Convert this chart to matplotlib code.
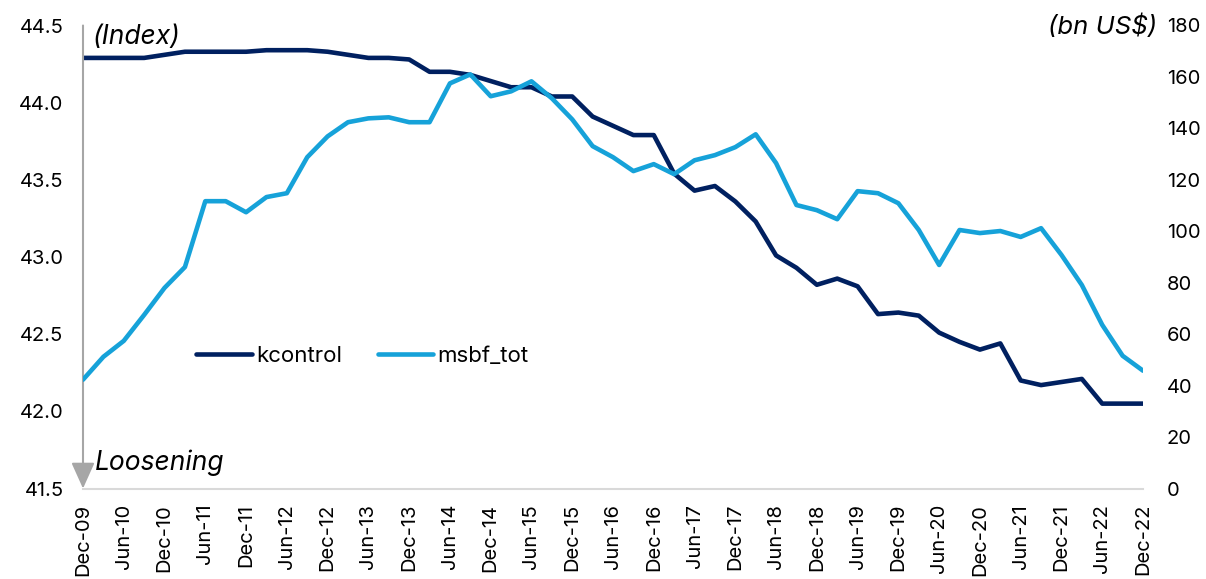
import matplotlib
matplotlib.use("Agg")
import matplotlib.pyplot as plt
from matplotlib.ticker import FormatStrFormatter
import numpy as np

plt.rcParams['font.family'] = ['Inter', 'DejaVu Sans']

# Quarterly dates Dec-09 .. Dec-22
quarters = ["Dec-09", "Mar-10", "Jun-10", "Sep-10", "Dec-10", "Mar-11", "Jun-11", "Sep-11",
            "Dec-11", "Mar-12", "Jun-12", "Sep-12", "Dec-12", "Mar-13", "Jun-13", "Sep-13",
            "Dec-13", "Mar-14", "Jun-14", "Sep-14", "Dec-14", "Mar-15", "Jun-15", "Sep-15",
            "Dec-15", "Mar-16", "Jun-16", "Sep-16", "Dec-16", "Mar-17", "Jun-17", "Sep-17",
            "Dec-17", "Mar-18", "Jun-18", "Sep-18", "Dec-18", "Mar-19", "Jun-19", "Sep-19",
            "Dec-19", "Mar-20", "Jun-20", "Sep-20", "Dec-20", "Mar-21", "Jun-21", "Sep-21",
            "Dec-21", "Mar-22", "Jun-22", "Sep-22", "Dec-22"]

kcontrol = [44.29, 44.29, 44.29, 44.29, 44.31, 44.33, 44.33, 44.33, 44.33, 44.34,
            44.34, 44.34, 44.33, 44.31, 44.29, 44.29, 44.28, 44.20, 44.20, 44.18,
            44.14, 44.10, 44.10, 44.04, 44.04, 43.91, 43.85, 43.79, 43.79, 43.54,
            43.43, 43.46, 43.36, 43.23, 43.01, 42.93, 42.82, 42.86, 42.81, 42.63,
            42.64, 42.62, 42.51, 42.45, 42.40, 42.44, 42.20, 42.17, 42.19, 42.21,
            42.05, 42.05, 42.05]

msbf_tot = [42.3, 51.2, 57.4, 67.5, 78.0, 86.1, 111.7, 111.7, 107.4, 113.3,
            114.8, 128.8, 136.9, 142.4, 143.9, 144.3, 142.4, 142.4, 157.5, 161.0,
            152.5, 154.4, 158.3, 151.7, 143.5, 133.1, 128.8, 123.4, 126.1, 122.2,
            127.6, 129.6, 132.7, 137.7, 126.5, 110.2, 108.2, 104.7, 115.6, 114.8,
            110.9, 100.5, 86.9, 100.5, 99.3, 100.1, 97.8, 101.2, 90.8, 79.1,
            63.6, 51.6, 45.8]

left_ticks = [41.5, 42.0, 42.5, 43.0, 43.5, 44.0, 44.5]
right_ticks = [0, 20, 40, 60, 80, 100, 120, 140, 160, 180]

NAVY = "#002060"
LIGHT = "#16A2D9"
GRAY = "#A6A6A6"

fig = plt.figure(figsize=(12.06, 5.79), dpi=100)
ax = fig.add_axes([83/1206, 1-488.5/579, (1143-83)/1206, (488.5-25.5)/579])
ax2 = ax.twinx()

x = np.arange(len(quarters))
l1, = ax.plot(x, kcontrol, color=NAVY, lw=3.3, solid_capstyle='round', solid_joinstyle='round', label='kcontrol', zorder=3)
l2, = ax2.plot(x, msbf_tot, color=LIGHT, lw=3.3, solid_capstyle='round', solid_joinstyle='round', label='msbf_tot', zorder=2)

ax.set_xlim(0, len(quarters)-1)
ax.set_ylim(41.5, 44.5)
ax2.set_ylim(0, 180)
ax.set_yticks(left_ticks)
ax.yaxis.set_major_formatter(FormatStrFormatter('%.1f'))
ax2.set_yticks(right_ticks)

ax.set_xticks(x[::2])
ax.set_xticklabels(quarters[::2], rotation=90, fontsize=14.5, color='#000000')

ax.tick_params(axis='y', length=0, pad=14, labelsize=14.5)
ax.tick_params(axis='x', length=0, pad=11)
ax2.tick_params(axis='y', length=0, pad=17, labelsize=14.5)

for s in ['top', 'right', 'left']:
    ax.spines[s].set_visible(False)
for s in ['top', 'right', 'left', 'bottom']:
    ax2.spines[s].set_visible(False)
ax.spines['bottom'].set_color('#D9D9D9')
ax.spines['bottom'].set_linewidth(1.5)

ax.annotate('', xy=(0, 0), xytext=(0, 1), xycoords='axes fraction',
            arrowprops=dict(arrowstyle='-|>,head_length=1.0,head_width=0.45', color=GRAY,
                            lw=1.5, mutation_scale=16, shrinkA=0, shrinkB=0),
            annotation_clip=False)

ax.text(10/1060, 1-12/463, '(Index)', transform=ax.transAxes, style='italic',
        fontsize=19, va='center', ha='left')
ax.text(1157/1206, 1-27/579, '(bn US$)', transform=fig.transFigure, style='italic',
        fontsize=18.5, va='center', ha='right')
ax.text(12/1060, 26/463, 'Loosening', transform=ax.transAxes, style='italic',
        fontsize=19, va='center', ha='left')

fig.legend(handles=[l1, l2], labels=['kcontrol', 'msbf_tot'], loc='center left',
           bbox_to_anchor=(176/1206, 1-356/579), ncol=2, frameon=False,
           fontsize=16, handlelength=2.5, handletextpad=0.2, columnspacing=1.6)

fig.savefig('out.png', dpi=100)
